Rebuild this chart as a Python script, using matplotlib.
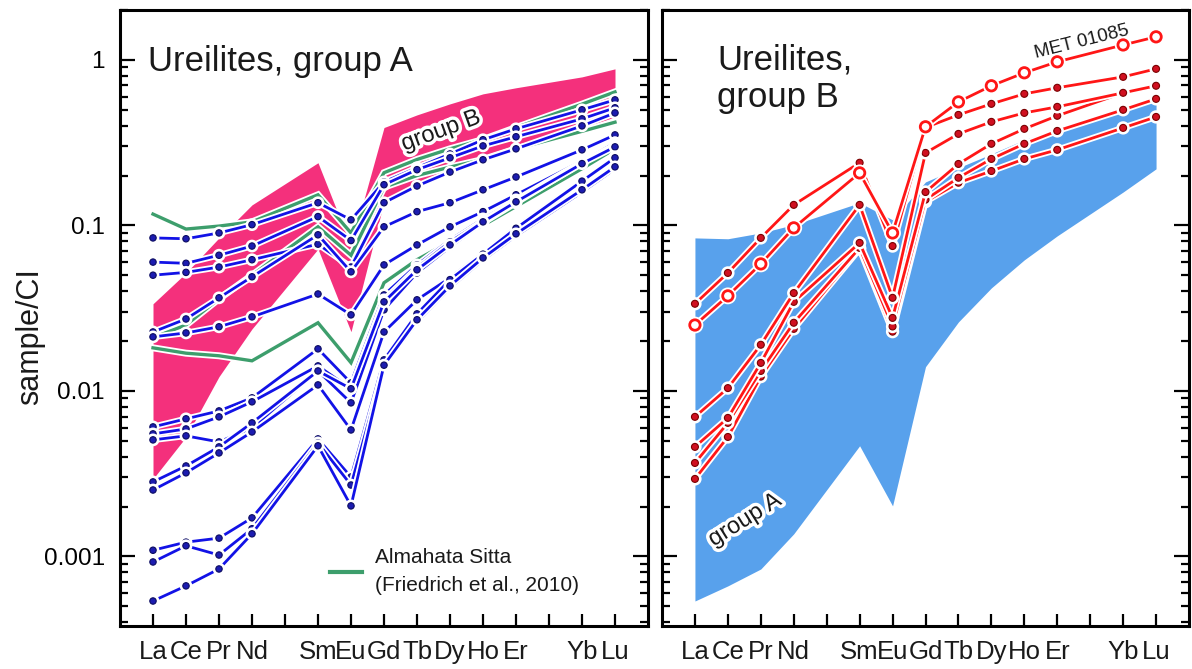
import numpy as np
import matplotlib
matplotlib.use('Agg')
import matplotlib.pyplot as plt
import matplotlib.patheffects as pe
from matplotlib.ticker import LogLocator, NullFormatter, FixedLocator, FixedFormatter

plt.rcParams['font.family'] = ['Liberation Sans', 'DejaVu Sans']

# ---------------- data ----------------
elements = ['La', 'Ce', 'Pr', 'Nd', 'Sm', 'Eu', 'Gd', 'Tb', 'Dy', 'Ho', 'Er', 'Yb', 'Lu']
ree_pos = [0, 1, 2, 3, 5, 6, 7, 8, 9, 10, 11, 13, 14]   # Pm (4) and Tm (12) missing
tick_pos = list(range(15))
tick_labels = ['La', 'Ce', 'Pr', 'Nd', '', 'Sm', 'Eu', 'Gd', 'Tb', 'Dy', 'Ho', 'Er', '', 'Yb', 'Lu']

# Group A ureilites (blue lines, left panel)
groupA_1 = [0.084, 0.083, 0.090, 0.101, 0.137, 0.108, 0.183, 0.223, 0.270, 0.329, 0.383, 0.499, 0.573]
groupA_2 = [0.060, 0.059, 0.066, 0.075, 0.113, 0.081, 0.176, 0.217, 0.256, 0.302, 0.343, 0.440, 0.513]
groupA_3 = [0.050, 0.052, 0.056, 0.062, 0.077, 0.056, 0.137, 0.173, 0.210, 0.249, 0.290, 0.399, 0.478]
groupA_4 = [0.0227, 0.0272, 0.0365, 0.0489, 0.0877, 0.0524, 0.098, 0.121, 0.137, 0.164, 0.196, 0.286, 0.352]
groupA_5 = [0.0212, 0.0224, 0.0244, 0.0280, 0.0385, 0.0288, 0.0577, 0.0762, 0.098, 0.121, 0.153, 0.245, 0.315]
groupA_6 = [0.00606, 0.00678, 0.00757, 0.00908, 0.01795, 0.01117, 0.038, 0.0577, 0.0817, 0.1095, 0.1426, 0.242, 0.315]
groupA_7 = [0.00550, 0.00589, 0.00697, 0.00859, 0.01416, 0.01028, 0.0355, 0.0554, 0.0795, 0.1065, 0.1406, 0.239, 0.306]
groupA_8 = [0.00506, 0.00535, 0.00492, 0.00598, 0.0132, 0.00847, 0.0309, 0.0516, 0.0741, 0.1036, 0.1368, 0.239, 0.302]
groupA_9 = [0.00282, 0.00352, 0.00459, 0.00641, 0.0132, 0.0103, 0.0345, 0.0539, 0.0762, 0.105, 0.1387, 0.236, 0.298]
groupA_10 = [0.00252, 0.0032, 0.00422, 0.00565, 0.01087, 0.00581, 0.0227, 0.0355, 0.0482, 0.0682, 0.098, 0.188, 0.259]
groupA_11 = [0.00109, 0.00122, 0.00129, 0.00171, 0.00513, 0.00302, 0.0154, 0.0292, 0.047, 0.067, 0.096, 0.185, 0.256]
groupA_12 = [0.000926, 0.00116, 0.00102, 0.00147, 0.00485, 0.0027, 0.0140, 0.0261, 0.0419, 0.0619, 0.0864, 0.159, 0.2195]
groupA_13 = [0.000538, 0.000664, 0.00084, 0.00137, 0.00466, 0.00202, 0.0143, 0.0269, 0.0431, 0.0636, 0.0889, 0.164, 0.2257]
groupA = [groupA_1, groupA_2, groupA_3, groupA_4, groupA_5, groupA_6, groupA_7,
          groupA_8, groupA_9, groupA_10, groupA_11, groupA_12, groupA_13]

# Almahata Sitta (green lines, left panel)
almahata_1 = [0.117, 0.095, 0.099, 0.105, 0.153, 0.090, 0.208, 0.250, 0.290, 0.330, 0.390, 0.540, 0.640]
almahata_2 = [0.021, 0.025, 0.036, 0.050, 0.098, 0.066, 0.170, 0.200, 0.225, 0.250, 0.290, 0.370, 0.420]
almahata_3 = [0.0182, 0.0169, 0.0163, 0.0152, 0.0258, 0.0148, 0.045, 0.062, 0.080, 0.100, 0.130, 0.220, 0.290]
almahata = [almahata_1, almahata_2, almahata_3]

# Group B ureilites (red lines, right panel)
groupB_1 = [0.0336, 0.0516, 0.084, 0.133, 0.239, 0.075, 0.390, 0.465, 0.542, 0.623, 0.678, 0.789, 0.882]
groupB_2 = [0.00697, 0.0104, 0.019, 0.039, 0.133, 0.0365, 0.274, 0.357, 0.422, 0.478, 0.520, 0.632, 0.697]
groupB_3 = [0.00459, 0.00687, 0.01476, 0.0345, 0.0784, 0.0276, 0.159, 0.235, 0.311, 0.383, 0.459, 0.632, 0.687]
groupB_4 = [0.00367, 0.00641, 0.0132, 0.0258, 0.0731, 0.0245, 0.143, 0.194, 0.252, 0.311, 0.372, 0.499, 0.581]
groupB_5 = [0.00294, 0.00527, 0.0122, 0.0237, 0.0720, 0.0228, 0.139, 0.181, 0.213, 0.252, 0.286, 0.388, 0.452]
groupB = [groupB_1, groupB_2, groupB_3, groupB_4, groupB_5]
met01085 = [0.025, 0.0375, 0.0585, 0.0966, 0.2075, 0.090, 0.394, 0.557, 0.697, 0.835, 0.973, 1.23, 1.377]

# ---------------- style ----------------
BLUE = '#1212e6'
BLUE_MK = '#1c1cb0'
BLUE_EDGE = '#0a0a60'
GREEN = '#3d9e6c'
PINK = '#f4307c'
LIGHTBLUE = '#58a1ec'
RED = '#ff1616'
RED_MK = '#d01020'
RED_EDGE = '#7a0000'
TXT = '#1a1a1a'

YMIN, YMAX = 3.8e-4, 2.0
halo = lambda w: [pe.Stroke(linewidth=w, foreground='white'), pe.Normal()]

fig = plt.figure(figsize=(11.92, 6.69), dpi=100)
H = 669.0
W = 1192.0
axL = fig.add_axes([120 / W, 1 - 626 / H, 528 / W, 616 / H])
axR = fig.add_axes([662 / W, 1 - 626 / H, 527 / W, 616 / H])

for ax in (axL, axR):
    ax.set_yscale('log')
    ax.set_ylim(YMIN, YMAX)
    ax.set_xlim(-1, 15)
    ax.set_xticks(tick_pos)
    ax.set_xticklabels(tick_labels, fontsize=18.5, color=TXT)
    ax.yaxis.set_major_locator(FixedLocator([0.001, 0.01, 0.1, 1]))
    ax.yaxis.set_minor_locator(LogLocator(base=10, subs=np.arange(2, 10)))
    ax.yaxis.set_minor_formatter(NullFormatter())
    ax.tick_params(axis='x', which='major', direction='in', length=9, width=1.6,
                   pad=10, top=False, bottom=True)
    ax.tick_params(axis='y', which='major', direction='in', length=11, width=1.6,
                   left=True, right=True, pad=11, labelsize=17.5)
    ax.tick_params(axis='y', which='minor', direction='in', length=5.5, width=1.6,
                   left=True, right=True)
    for s in ax.spines.values():
        s.set_linewidth(2.2)
    ax.set_facecolor('white')

axL.yaxis.set_major_formatter(FixedFormatter(['0.001', '0.01', '0.1', '1']))
axR.tick_params(axis='y', which='both', labelleft=False, labelright=False)

# ---------------- left panel ----------------
B = np.array(groupB)
axL.fill_between(ree_pos, B.min(axis=0), B.max(axis=0), color=PINK, lw=0, zorder=1)

for g in almahata:
    axL.plot(ree_pos, g, color=GREEN, lw=2.4, zorder=2, path_effects=halo(5.0),
             solid_joinstyle='miter')

for s in groupA:
    axL.plot(ree_pos, s, color=BLUE, lw=2.0, marker='o', ms=4.6, mfc=BLUE_MK,
             mec=BLUE_EDGE, mew=0.8, zorder=3, path_effects=halo(4.6))

axL.text(0.053, 0.901, 'Ureilites, group A', transform=axL.transAxes,
         fontsize=25, color=TXT, ha='left', va='baseline')
axL.text(0.608, 0.8036, 'group B', transform=axL.transAxes, fontsize=17,
         rotation=20, ha='center', va='center', color=TXT, zorder=5,
         path_effects=[pe.withStroke(linewidth=5, foreground='white')])

axL.plot([0.398, 0.458], [0.0877, 0.0877], transform=axL.transAxes,
         color=GREEN, lw=3.0, zorder=5)
axL.text(0.483, 0.112, 'Almahata Sitta', transform=axL.transAxes,
         fontsize=15, color=TXT, ha='left', va='center')
axL.text(0.483, 0.066, '(Friedrich et al., 2010)', transform=axL.transAxes,
         fontsize=15, color=TXT, ha='left', va='center')

# ---------------- right panel ----------------
A = np.array(groupA)
axR.fill_between(ree_pos, A.min(axis=0), A.max(axis=0), color=LIGHTBLUE, lw=0, zorder=1)

for s in groupB[::-1]:
    axR.plot(ree_pos, s, color=RED, lw=2.0, marker='o', ms=5.0, mfc=RED_MK,
             mec=RED_EDGE, mew=0.8, zorder=3, path_effects=halo(4.6))
axR.plot(ree_pos, met01085, color=RED, lw=2.0, marker='o', ms=7.5, mfc='white',
         mec=RED, mew=2.0, zorder=4, path_effects=halo(4.6))

axR.text(0.1044, 0.9026, 'Ureilites,', transform=axR.transAxes,
         fontsize=25, color=TXT, ha='left', va='baseline')
axR.text(0.1044, 0.8425, 'group B', transform=axR.transAxes,
         fontsize=25, color=TXT, ha='left', va='baseline')
axR.text(0.797, 0.948, 'MET 01085', transform=axR.transAxes, fontsize=13.5,
         rotation=14, ha='center', va='center', color=TXT, zorder=5)
axR.text(0.1575, 0.172, 'group A', transform=axR.transAxes, fontsize=17,
         rotation=32, ha='center', va='center', color=TXT, zorder=5,
         path_effects=[pe.withStroke(linewidth=5, foreground='white')])

fig.text(30 / W, 1 - 337 / H, 'sample/CI', rotation=90, fontsize=22,
         ha='center', va='center', color=TXT)

fig.savefig('out.png', dpi=100, facecolor='white')
